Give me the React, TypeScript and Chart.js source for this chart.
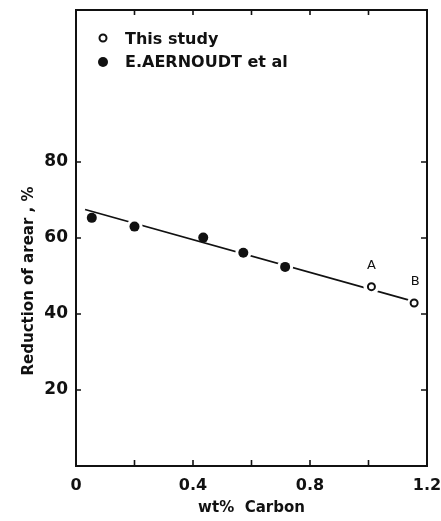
import React, { useEffect, useRef } from "react";
import { Chart, registerables } from "chart.js";

Chart.register(...registerables);

// ---- data ----
const studyCarbon = [1.01, 1.156];
const studyReduction = [47.2, 42.9];
const studyLabels = ["A", "B"];

const aernoudtCarbon = [0.054, 0.2, 0.435, 0.572, 0.715];
const aernoudtReduction = [65.3, 63.0, 60.1, 56.1, 52.4];

const fitCarbon = [0.031, 1.142];
const fitReduction = [67.5, 43.6];

const xTickValues = [0, 0.4, 0.8, 1.2];
const yTickLabels = [20, 40, 60, 80];
const minorXTicks = [0.2, 0.4, 0.6, 0.8, 1.0];

const legendLabels = ["This study", "E.AERNOUDT et al"];
const xTitle = "wt%  Carbon";
const yTitle = "Reduction of arear , %";

const FONT = "'DejaVu Sans', sans-serif";

const framePlugin = {
  id: "framePlugin",
  afterDraw(chart: any) {
    const { ctx, chartArea } = chart;
    const xs = chart.scales.x;
    const ys = chart.scales.y;
    const { left, right, top, bottom } = chartArea;
    ctx.save();
    ctx.strokeStyle = "#111";
    ctx.lineWidth = 2;
    ctx.strokeRect(left, top, right - left, bottom - top);
    ctx.lineWidth = 1.6;
    ctx.beginPath();
    minorXTicks.forEach((v) => {
      const px = xs.getPixelForValue(v);
      ctx.moveTo(px, bottom);
      ctx.lineTo(px, bottom - 6);
      ctx.moveTo(px, top);
      ctx.lineTo(px, top + 5);
    });
    yTickLabels.forEach((v) => {
      const py = ys.getPixelForValue(v);
      ctx.moveTo(left, py);
      ctx.lineTo(left + 5, py);
      ctx.moveTo(right, py);
      ctx.lineTo(right - 6, py);
    });
    ctx.stroke();

    // A / B labels
    ctx.fillStyle = "#111";
    ctx.font = `13px ${FONT}`;
    ctx.textAlign = "center";
    ctx.textBaseline = "middle";
    studyLabels.forEach((lab, i) => {
      const px = xs.getPixelForValue(studyCarbon[i]);
      const py = ys.getPixelForValue(studyReduction[i]);
      ctx.fillText(lab, px + (i === 1 ? 1 : 0), py - 21);
    });

    // legend
    ctx.lineWidth = 2;
    ctx.strokeStyle = "#111";
    ctx.beginPath();
    ctx.arc(103, 38, 3.5, 0, Math.PI * 2);
    ctx.stroke();
    ctx.beginPath();
    ctx.arc(103, 62, 5, 0, Math.PI * 2);
    ctx.fill();
    ctx.font = `bold 16px ${FONT}`;
    ctx.textAlign = "left";
    ctx.textBaseline = "alphabetic";
    ctx.fillText(legendLabels[0], 125, 44);
    ctx.fillText(legendLabels[1], 125, 67);

    // axis titles
    ctx.font = `bold 15px ${FONT}`;
    ctx.textAlign = "center";
    ctx.fillText(xTitle, (left + right) / 2, 512);
    ctx.save();
    ctx.translate(29, 281);
    ctx.rotate(-Math.PI / 2);
    ctx.textBaseline = "middle";
    ctx.fillText(yTitle, 0, 0);
    ctx.restore();
    ctx.restore();
  },
};

export default function App() {
  const ref = useRef<HTMLCanvasElement | null>(null);
  useEffect(() => {
    if (!ref.current) return;
    const chart = new Chart(ref.current, {
      type: "scatter",
      data: {
        datasets: [
          {
            label: "fit",
            data: fitCarbon.map((x, i) => ({ x, y: fitReduction[i] })),
            showLine: true,
            borderColor: "#111",
            borderWidth: 1.8,
            pointRadius: 0,
            order: 3,
          },
          {
            label: "halo",
            data: [
              ...aernoudtCarbon.map((x, i) => ({ x, y: aernoudtReduction[i] })),
              ...studyCarbon.map((x, i) => ({ x, y: studyReduction[i] })),
            ],
            pointRadius: [0, 8, 0, 8, 8, 8, 7],
            pointBackgroundColor: "#fff",
            pointBorderWidth: 0,
            order: 2,
          },
          {
            label: legendLabels[1],
            data: aernoudtCarbon.map((x, i) => ({ x, y: aernoudtReduction[i] })),
            pointRadius: 5,
            pointBackgroundColor: "#111",
            pointBorderColor: "#111",
            pointBorderWidth: 0,
            order: 1,
          },
          {
            label: legendLabels[0],
            data: studyCarbon.map((x, i) => ({ x, y: studyReduction[i] })),
            pointRadius: 3.5,
            pointBackgroundColor: "#fff",
            pointBorderColor: "#111",
            pointBorderWidth: 2,
            order: 0,
          },
        ],
      },
      options: {
        animation: false,
        responsive: true,
        maintainAspectRatio: false,
        layout: { autoPadding: false, padding: { top: 10, right: 14, left: 0, bottom: 0 } },
        plugins: { legend: { display: false }, tooltip: { enabled: false } },
        scales: {
          x: {
            type: "linear",
            min: 0,
            max: 1.2,
            grid: { display: false, drawTicks: false },
            border: { display: false },
            afterFit: (s: any) => {
              s.height = 55;
              s.paddingLeft = 0;
              s.paddingRight = 0;
            },
            afterBuildTicks: (s: any) => {
              s.ticks = xTickValues.map((v) => ({ value: v }));
            },
            ticks: {
              padding: 10,
              color: "#111",
              font: { family: FONT, size: 16, weight: "bold" },
              callback: (v: any) => (Number(v) === 0 ? "0" : Number(v).toFixed(1)),
            },
          },
          y: {
            type: "linear",
            min: 0,
            max: 120,
            grid: { display: false, drawTicks: false },
            border: { display: false },
            afterFit: (s: any) => {
              s.width = 76;
              s.paddingTop = 0;
              s.paddingBottom = 0;
            },
            afterBuildTicks: (s: any) => {
              s.ticks = yTickLabels.map((v) => ({ value: v }));
            },
            ticks: {
              padding: 8,
              color: "#111",
              font: { family: FONT, size: 17, weight: "bold" },
            },
          },
        },
      },
      plugins: [framePlugin],
    });
    return () => chart.destroy();
  }, []);
  return (
    <div style={{ position: "fixed", left: 0, top: 0, width: 441, height: 521, background: "#fff" }}>
      <canvas ref={ref} />
    </div>
  );
}
